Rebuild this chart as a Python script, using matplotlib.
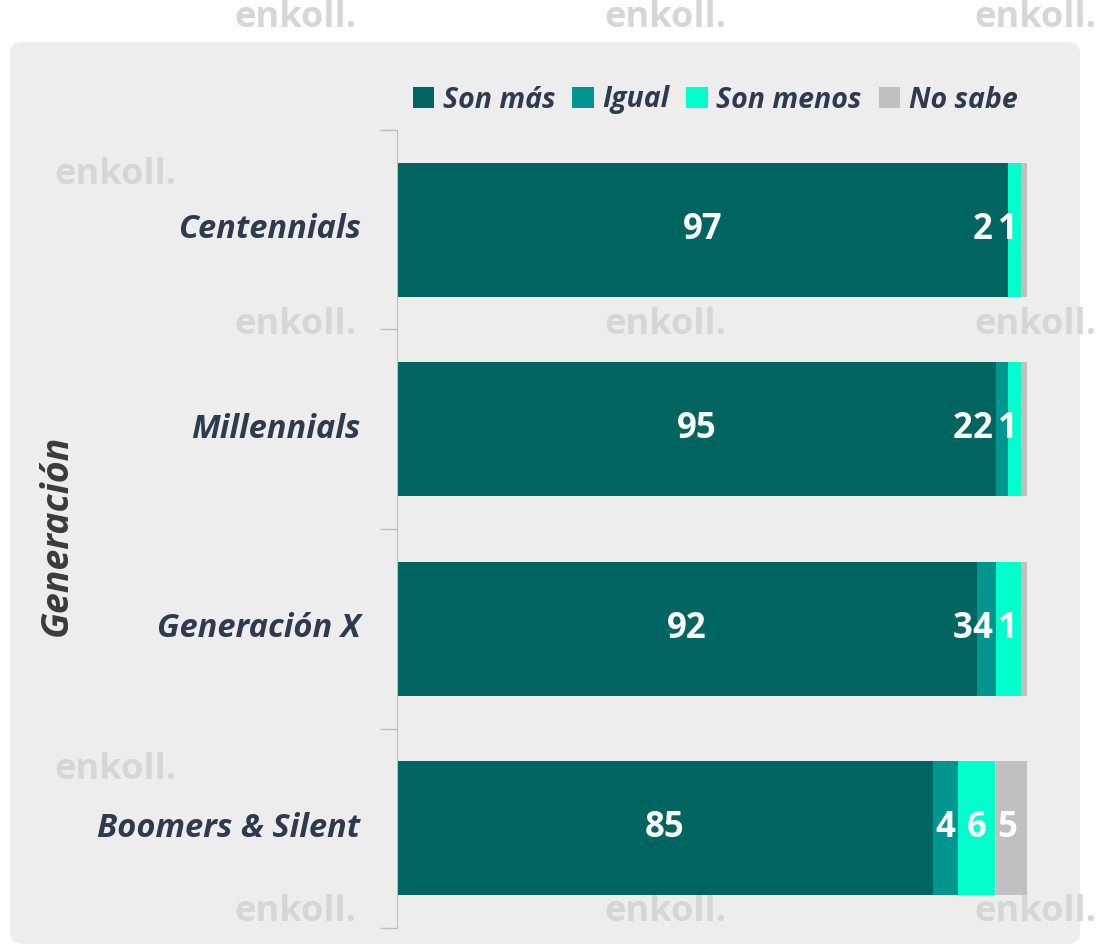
import numpy as np
import matplotlib.pyplot as plt
from matplotlib.patches import FancyBboxPatch, Patch

generaciones = ['Centennials', 'Millennials', 'Generación X', 'Boomers & Silent']
son_mas = [97, 95, 92, 85]
igual = [0, 2, 3, 4]
son_menos = [2, 2, 4, 6]
no_sabe = [1, 1, 1, 5]
series_names = ['Son más', 'Igual', 'Son menos', 'No sabe']
colors = ['#006461', '#00968F', '#00FFCC', '#C0C0C0']

text_col = '#2E3B4E'

fig = plt.figure(figsize=(11.14, 9.46), dpi=100)

# background panel
panel = FancyBboxPatch((10 / 1114, 1 - 944 / 946), 1070 / 1114, 902 / 946,
                       boxstyle='round,pad=0,rounding_size=0.012',
                       transform=fig.transFigure, facecolor='#EDEDED',
                       edgecolor='none', zorder=-2)
fig.patches.append(panel)

# watermark (only the ones not hidden by bars / labels)
wm_spots = [(295, 18), (665, 18), (1035, 18),
            (115, 175),
            (295, 325), (665, 325), (1035, 325),
            (115, 770),
            (295, 912), (665, 912), (1035, 912)]
for xx, yy in wm_spots:
    fig.text(xx / 1114, 1 - yy / 946, 'enkoll.', fontsize=26, fontweight='bold',
             color='#D6D6D6', ha='center', va='center', family='Open Sans', zorder=-1)

ax = fig.add_axes([397 / 1114, 18 / 946, 630 / 1114, 798 / 946])
ax.patch.set_visible(False)

data = [son_mas, igual, son_menos, no_sabe]
y = np.arange(len(generaciones))
left = np.zeros(len(generaciones))
for vals, c in zip(data, colors):
    ax.barh(y, vals, left=left, height=0.67, color=c, zorder=2)
    left += np.array(vals)

# value labels, small ones pushed left so they do not collide
for i in range(len(generaciones)):
    vals = [d[i] for d in data]
    starts = np.cumsum([0] + vals[:-1])
    centers = [s + v / 2 for s, v in zip(starts, vals)]
    ax.text(centers[0], i, str(vals[0]), ha='center', va='center', color='white',
            fontsize=25, fontweight='bold', family='Open Sans', zorder=3)
    pos = None
    for j in range(len(vals) - 1, 0, -1):
        if vals[j] == 0:
            continue
        if pos is None:
            p = min(centers[j], 96.9)
            gap = 4.0
        else:
            p = min(centers[j], pos - gap)
            gap = 3.1
        pos = p
        ax.text(p, i, str(vals[j]), ha='center', va='center', color='white',
                fontsize=25, fontweight='bold', family='Open Sans', zorder=3)

ax.set_xlim(0, 100)
ax.set_ylim(len(generaciones) - 0.5, -0.5)
ax.set_xticks([])
ax.set_yticks(np.arange(-0.5, len(generaciones)))
ax.set_yticklabels([])
ax.tick_params(axis='y', length=12, color='#BFBFBF', width=1)
for s in ['top', 'right', 'bottom']:
    ax.spines[s].set_visible(False)
ax.spines['left'].set_color('#BFBFBF')

for i, g in enumerate(generaciones):
    ax.text(-0.058, i, g, transform=ax.get_yaxis_transform(), ha='right', va='center',
            fontsize=23.5, fontweight='bold', style='italic', color=text_col, family='Open Sans')

fig.text(57 / 1114, 1 - 535 / 946, 'Generación', rotation=90, ha='center', va='center',
         fontsize=27, fontweight='bold', style='italic', color='#3A3A3A', family='Open Sans')

handles = [Patch(facecolor=c, edgecolor='none') for c in colors]
leg = fig.legend(handles, series_names, loc='center', bbox_to_anchor=(715 / 1114, 1 - 100 / 946),
                 ncol=4, frameon=False, handlelength=0.75, handleheight=0.75,
                 handletextpad=0.3, columnspacing=0.6,
                 prop={'family': 'Open Sans', 'weight': 'bold', 'style': 'italic', 'size': 20.5})
for t in leg.get_texts():
    t.set_color(text_col)

fig.savefig('out.png', dpi=100, facecolor='white')
